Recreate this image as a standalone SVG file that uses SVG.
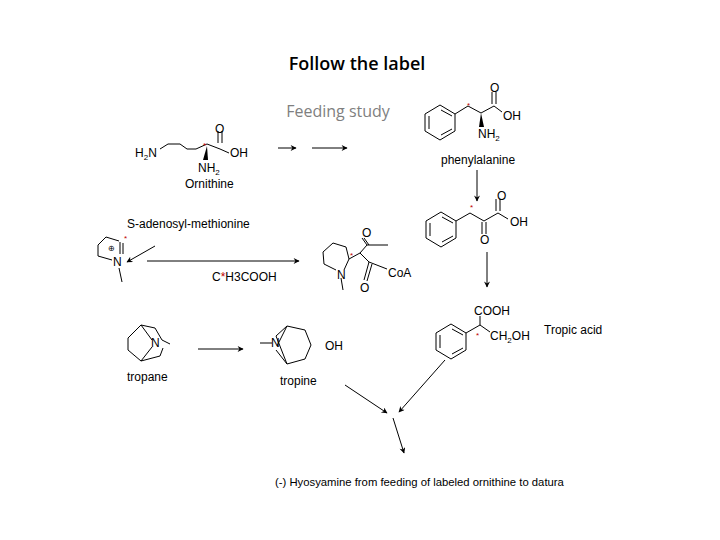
<svg xmlns="http://www.w3.org/2000/svg" width="720" height="540" viewBox="0 0 720 540">
<defs>
<marker id="ah" viewBox="0 0 10 10" refX="9" refY="5" markerWidth="8" markerHeight="6" orient="auto" markerUnits="userSpaceOnUse"><path d="M0,0 L10,5 L0,10 L3,5 z" fill="#000"/></marker>
</defs>
<style>
.b{stroke:#000;stroke-width:1;fill:none}
.t{font-family:"Liberation Sans",Arial,sans-serif;font-size:12px;fill:#000}
.s{font-family:"Liberation Sans",Arial,sans-serif;font-size:8px;fill:#c00000}
.c{stroke:#000;stroke-width:1;fill:none;marker-end:url(#ah)}
</style>
<rect width="720" height="540" fill="#fff"/>
<text x="357" y="70" text-anchor="middle" font-family="Open Sans,Liberation Sans,sans-serif" font-size="18" font-weight="600">Follow the label</text>
<text x="338" y="117" text-anchor="middle" font-family="Open Sans,Liberation Sans,sans-serif" font-size="16" fill="#7f7f7f">Feeding study</text>

<g id="ornithine">
<text class="t" x="135" y="157">H<tspan style="font-size:8px" dy="3">2</tspan><tspan dy="-3">N</tspan></text>
<path class="b" d="M160,149 L168,144 L180,144 L187,149 L196,149 L207,144 L220,149 M218,143 V131 M222,143 V131 M220,149 L229,153"/>
<path d="M207,146 L203,160 L208,160 z" fill="#000"/>
<text class="t" x="215" y="133">O</text>
<text class="t" x="230" y="157">OH</text>
<text class="t" x="198" y="172">NH<tspan style="font-size:8px" dy="3">2</tspan></text>
<text class="s" x="203" y="148">*</text>
<text class="t" x="185" y="188">Ornithine</text>
</g>

<g id="phenylalanine">
<polygon class="b" points="440,105 455,114 455,131 440,140 425,131 425,114"/>
<path class="b" d="M429,116 V129 M441,110 L452,116 M441,135 L452,129 M455,114 L468,106 L481,113 L494,106 M492,104 V92 M496,104 V92 M494,106 L502,112"/>
<path d="M481,113 L479,127 L484,127 z" fill="#000"/>
<text class="s" x="467" y="108">*</text>
<text class="t" x="490" y="92">O</text>
<text class="t" x="503" y="120">OH</text>
<text class="t" x="478" y="138">NH<tspan style="font-size:8px" dy="3">2</tspan></text>
<text class="t" x="441" y="164">phenylalanine</text>
</g>

<g id="phenylpyruvate">
<polygon class="b" points="441,212 456,221 456,238 441,247 426,238 426,221"/>
<path class="b" d="M430,223 V236 M442,217 L453,223 M442,242 L453,236 M456,221 L470,213 L484,221 L498,213 M482,222 V234 M486,222 V234 M496,211 V199 M500,211 V199 M498,213 L508,219"/>
<text class="s" x="470" y="210">*</text>
<text class="t" x="497" y="200">O</text>
<text class="t" x="510" y="226">OH</text>
<text class="t" x="480" y="244">O</text>
</g>

<g id="tropic">
<polygon class="b" points="451,324 466,333 466,350 451,359 436,350 436,333"/>
<path class="b" d="M440,335 V348 M452,329 L463,335 M452,354 L463,348 M466,333 L480,325 V316 M480,325 L490,332"/>
<text class="t" x="474" y="315">COOH</text>
<text class="t" x="490" y="340">CH<tspan style="font-size:8px" dy="3">2</tspan><tspan dy="-3">OH</tspan></text>
<text class="s" x="476" y="338">*</text>
<text class="t" x="544" y="334">Tropic acid</text>
</g>

<g id="pyrrolinium">
<text class="t" x="127" y="228">S-adenosyl-methionine</text>
<path class="b" d="M98,245 L106,237 L119,241 M98,245 V256 L112,260 M120,242 L120,254 M123,243 L123,254 M119,268 L122,282"/>
<text class="t" x="113" y="266">N</text>
<text x="108" y="251" font-family="Liberation Sans,sans-serif" font-size="8">⊕</text>
<text class="s" x="124" y="241">*</text>
</g>

<g id="pyrrolidineCoA">
<path class="b" d="M323,252 L333,243 L346,247 L349,259 M323,252 L324,264 L336,270 M344,270 L349,259 L360,253 L367,245 L362,238 M369,245 L364,238 M367,245 L388,245 M360,253 L369,262 L387,269 M369,262 L364,280 M372,264 L367,281 M341,278 L343,290"/>
<text class="t" x="362" y="237">O</text>
<text class="t" x="337" y="279">N</text>
<text class="t" x="360" y="292">O</text>
<text class="t" x="388" y="277">CoA</text>
<text class="s" x="350" y="258">*</text>
</g>

<g id="tropane">
<path class="b" d="M128,338 L141,325 L155,328 L162,340 L170,344 M128,338 V350 L141,361 L160,356 L163,348 M141,325 L152,340 M141,361 L152,347"/>
<text class="t" x="151" y="347">N</text>
<text class="t" x="127" y="381">tropane</text>
</g>

<g id="tropine">
<path class="b" d="M260,343 L272,343 M276,336 L287,326 L305,330 L311,345 L305,359 L287,364 L276,350 M276,336 L287,364 M287,326 L277,346"/>
<text class="t" x="271" y="347">N</text>
<text class="t" x="325" y="350">OH</text>
<text class="t" x="280" y="385">tropine</text>
</g>

<text class="t" x="212" y="281">C<tspan fill="#c00000">*</tspan>H3COOH</text>
<text class="t" x="275" y="486" style="font-size:11.3px">(-) Hyosyamine from feeding of labeled ornithine to datura</text>

<g id="connectors">
<line class="c" x1="278" y1="148" x2="296" y2="148"/>
<line class="c" x1="312" y1="148" x2="347" y2="148"/>
<line class="c" x1="477" y1="170" x2="477" y2="201"/>
<line class="c" x1="487" y1="252" x2="487" y2="287"/>
<line class="c" x1="155" y1="246" x2="127" y2="262"/>
<line class="c" x1="147" y1="261" x2="299" y2="261"/>
<line class="c" x1="198" y1="349" x2="243" y2="349"/>
<line class="c" x1="345" y1="385" x2="387" y2="413"/>
<line class="c" x1="445" y1="360" x2="399" y2="412"/>
<line class="c" x1="393" y1="418" x2="404" y2="453"/>
</g>
</svg>
